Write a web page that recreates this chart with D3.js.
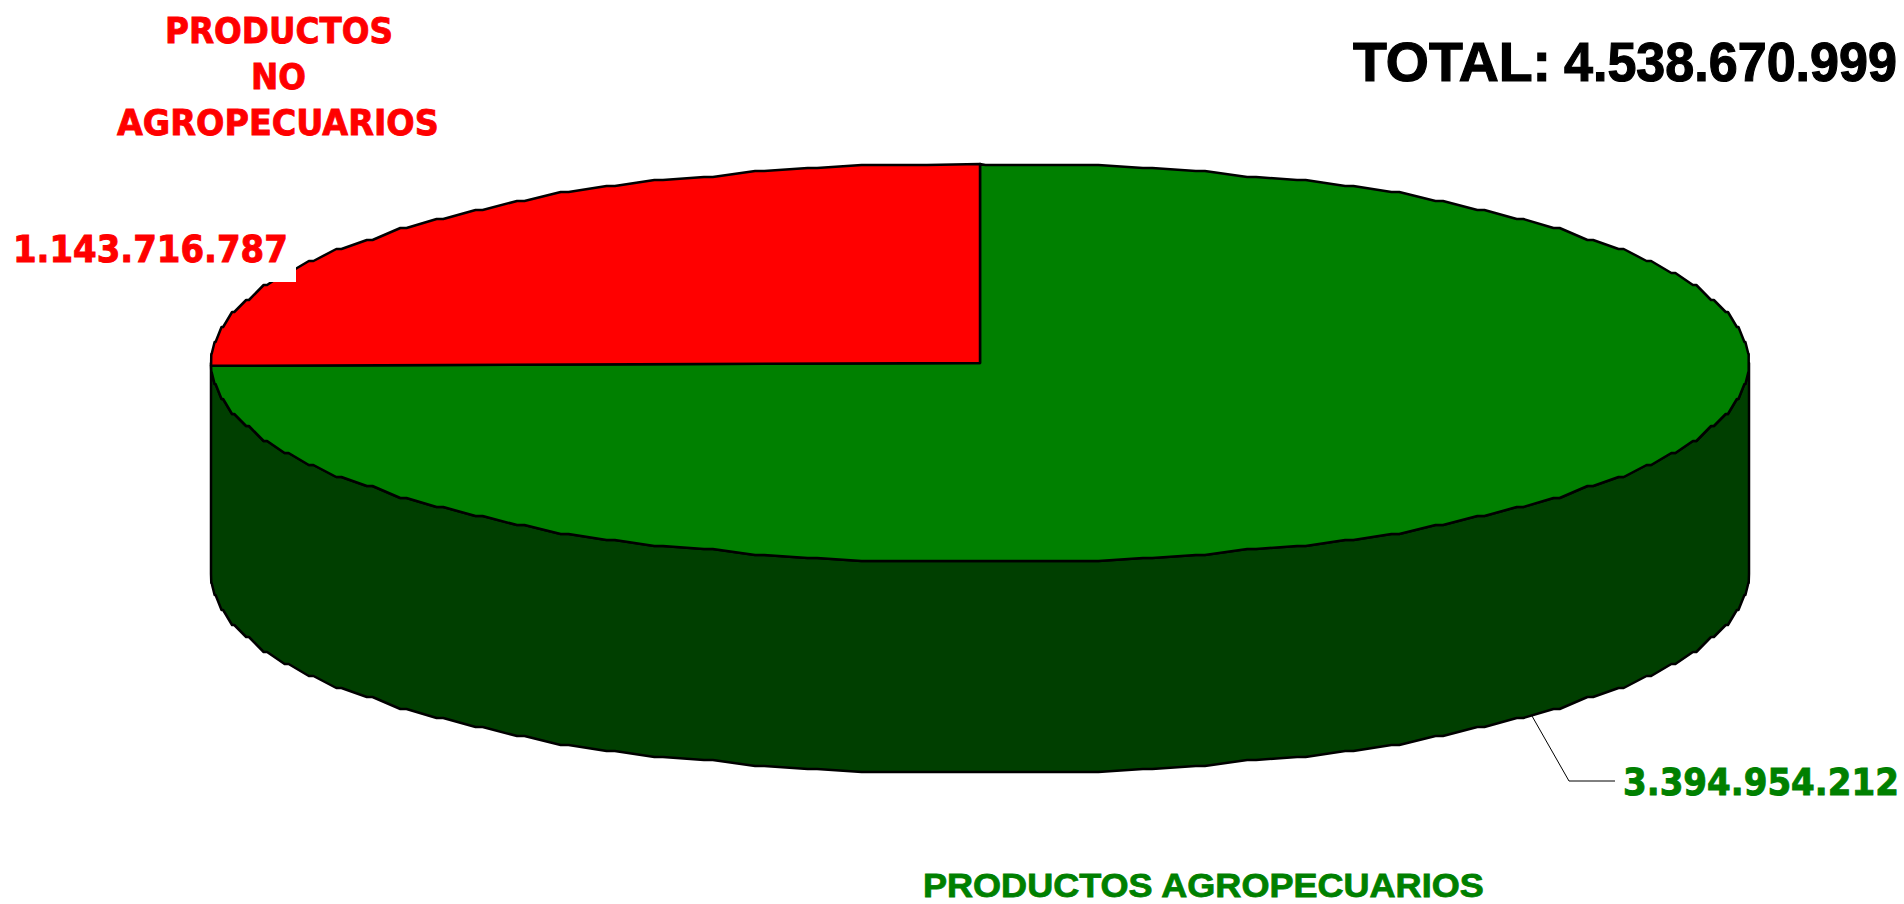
<!DOCTYPE html>
<html><head><meta charset="utf-8"><style>html,body{margin:0;background:#fff;overflow:hidden}svg{display:block}</style>
<script src="https://cdnjs.cloudflare.com/ajax/libs/d3/7.8.5/d3.min.js"></script></head><body><script>
const categories = ["PRODUCTOS AGROPECUARIOS", "PRODUCTOS NO AGROPECUARIOS"];
const values = [3394954212, 1143716787];
const valueLabels = ["3.394.954.212", "1.143.716.787"];
const totalLabel = "TOTAL: 4.538.670.999";
const colors = ["#008000", "#ff0000"];
const sideColor = "#003f00";

const W = 1904, H = 904, cx = 980, cy = 363, rx = 769, ry = 199, depth = 211;
const svg = d3.select("body").append("svg").attr("width", W).attr("height", H);
const sx = d3.scaleLinear().domain([-1, 1]).range([cx - rx, cx + rx]);
const sy = d3.scaleLinear().domain([-1, 1]).range([cy - ry, cy + ry]);
const grid = 3, stepDeg = 4, flatDeg = 0.7, rad = Math.PI / 180, bulge = 0.97;
const snap = v => Math.round(v / grid) * grid;
const curve = v => Math.sign(v) * Math.pow(Math.abs(v), bulge);
const rawY = a => sy(curve(-Math.cos(a)));
const yAt = a => snap(rawY(a));
const xAt = a => sx(curve(Math.sin(a)));

// rim outline between two angles: shared by the top face and the side wall
function rim(a0, a1, dy = 0) {
  const out = [[xAt(a0), rawY(a0) + dy]];
  const half = flatDeg * rad / 2;
  for (let k = Math.ceil(a0 / rad / stepDeg); k * stepDeg * rad < a1; k++) {
    const a = k * stepDeg * rad;
    if (a - half > a0) out.push([xAt(a - half), yAt(a) + dy]);
    if (a + half < a1) out.push([xAt(a + half), yAt(a) + dy]);
  }
  out.push([xAt(a1), rawY(a1) + dy]);
  return out;
}
const line = d3.line();
const arcs = d3.pie().sort(null)(values);
const strokeW = 2.5;

// side wall
svg.append("path")
  .attr("d", line([...rim(Math.PI / 2, 3 * Math.PI / 2), ...rim(Math.PI / 2, 3 * Math.PI / 2, depth).reverse()]) + "Z")
  .attr("fill", sideColor).attr("stroke", "#000").attr("stroke-width", strokeW).attr("stroke-linejoin", "round");

// top slices
arcs.forEach((d, i) => {
  svg.append("path")
    .attr("d", line([[sx(0), sy(0)], ...rim(d.startAngle, d.endAngle)]) + "Z")
    .attr("fill", colors[i]).attr("stroke", "#000").attr("stroke-width", strokeW).attr("stroke-linejoin", "round");
});

// leader line
svg.append("path").attr("d", line([[1532, 716], [1569, 781], [1615, 781]]))
  .attr("fill", "none").attr("stroke", "#000").attr("stroke-width", 1);

// label background notch
svg.append("rect").attr("x", 10).attr("y", 230).attr("width", 286).attr("height", 52).attr("fill", "#fff");

// text fitted to its measured width by a horizontal scale
function label(t, x, y, w, size, fill, family, weight) {
  const el = svg.append("text").text(t)
    .attr("font-family", family).attr("font-weight", "bold").attr("font-size", size)
    .attr("fill", fill).attr("stroke", fill).attr("stroke-width", weight);
  const nat = el.node().getComputedTextLength();
  el.attr("transform", `translate(${x},${y}) scale(${w / nat},1)`);
}
const dj = "'DejaVu Sans'", lib = "'Liberation Sans'";
const noAgro = categories[1].split(" ");
const totalParts = totalLabel.split(" ");
label(noAgro[0], 165, 43, 228, 36, colors[1], dj, 0.9);
label(noAgro[1], 251, 89, 55, 36, colors[1], dj, 0.9);
label(noAgro[2], 117, 135, 322, 36, colors[1], dj, 0.9);
label(valueLabels[1], 13, 262, 275, 38, colors[1], dj, 1);
label(totalParts[0], 1353, 81, 198, 56, "#000", lib, 1.2);
label(totalParts[1], 1564, 81, 333, 56, "#000", lib, 1.2);
label(valueLabels[0], 1623, 795, 276, 38, colors[0], dj, 1);
label(categories[0], 923, 897, 561, 33, colors[0], lib, 0.8);
</script></body></html>
